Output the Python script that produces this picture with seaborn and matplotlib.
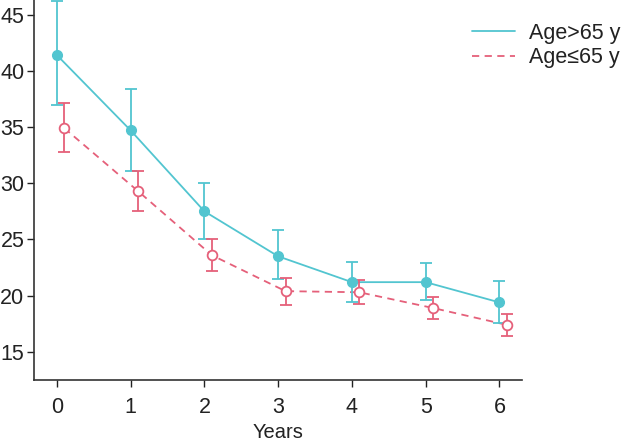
import numpy as np
import pandas as pd
import matplotlib.pyplot as plt
import seaborn as sns

years = [0, 1, 2, 3, 4, 5, 6]
old_mean = [41.4, 34.7, 27.5, 23.5, 21.2, 21.2, 19.4]
old_low = [37.0, 31.1, 25.0, 21.5, 19.4, 19.6, 17.6]
old_high = [46.2, 38.4, 30.0, 25.8, 23.0, 22.9, 21.3]
young_mean = [34.9, 29.3, 23.6, 20.4, 20.3, 18.9, 17.4]
young_low = [32.8, 27.5, 22.2, 19.2, 19.3, 17.9, 16.4]
young_high = [37.1, 31.1, 25.0, 21.6, 21.4, 19.9, 18.4]

cyan = "#52C5D0"
pink = "#E5607A"

sns.set_style("ticks")
plt.rcParams['font.family'] = ['Liberation Sans', 'DejaVu Sans']

fig = plt.figure(figsize=(6.3, 4.47), dpi=100)
ax = fig.add_axes([0.054, 0.15, 0.775, 0.85])

shift = 0.1
x_old = np.array(years, dtype=float)
x_young = x_old + shift

df = pd.DataFrame({
    "x": np.concatenate([x_old, x_young]),
    "y": old_mean + young_mean,
    "group": ["Age>65 y"] * 7 + ["Age\u226465 y"] * 7,
})

sns.lineplot(data=df[df.group == "Age>65 y"], x="x", y="y", ax=ax, color=cyan,
             lw=1.3, label="Age>65 y", legend=False)
sns.lineplot(data=df[df.group != "Age>65 y"], x="x", y="y", ax=ax, color=pink,
             lw=1.3, linestyle=(0, (4, 3)), label="Age\u226465 y", legend=False)

ax.errorbar(x_old, old_mean,
            yerr=[np.array(old_mean) - np.array(old_low), np.array(old_high) - np.array(old_mean)],
            fmt='o', color=cyan, ms=7, capsize=4.5, elinewidth=1.3, capthick=1.3)
ax.errorbar(x_young, young_mean,
            yerr=[np.array(young_mean) - np.array(young_low), np.array(young_high) - np.array(young_mean)],
            fmt='o', color=pink, mfc='white', ms=7, mew=1.3, capsize=4.5, elinewidth=1.3, capthick=1.3)

ax.set_xlim(-0.31, 6.31)
ax.set_ylim(12.5, 46.3)
ax.set_xticks(years)
ax.set_yticks([15, 20, 25, 30, 35, 40, 45])
ax.set_xlabel("Years", fontsize=14.5, color="#222222", labelpad=4)
ax.set_ylabel("")
ax.tick_params(labelsize=15.5, length=5, width=1, colors="#222222")
ax.tick_params(axis="x", pad=7)
ax.tick_params(axis="y", pad=2)
sns.despine(ax=ax)
for s in ["left", "bottom"]:
    ax.spines[s].set_color("#333333")
    ax.spines[s].set_linewidth(1.2)

handles, labels = ax.get_legend_handles_labels()
leg = fig.legend(handles[:2], labels[:2], loc="upper right", bbox_to_anchor=(1.012, 0.987),
                 frameon=False, fontsize=15.5, handlelength=2.0, handletextpad=0.65,
                 labelspacing=0.15, borderpad=0.3)
for t in leg.get_texts():
    t.set_color("#222222")

fig.savefig("out.png", dpi=100)
